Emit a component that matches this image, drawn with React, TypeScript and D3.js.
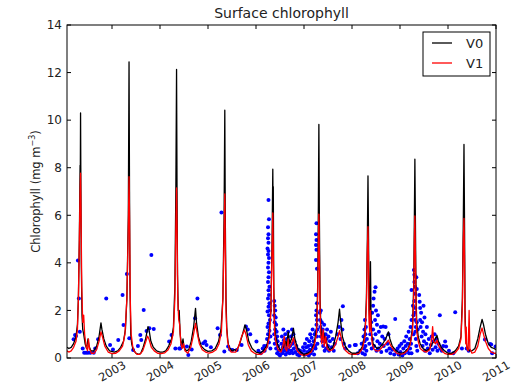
import React from "react";
import * as d3 from "d3";

// ---------- data (decimal year, chlorophyll mg m^-3) ----------
const title = "Surface chlorophyll";
const seriesNames = ["V0", "V1"];
const xTickYears = [2003, 2004, 2005, 2006, 2007, 2008, 2009, 2010, 2011];
const yTicks = [0, 2, 4, 6, 8, 10, 12, 14];

const v0: [number, number][] = [
  [2002.0625, 0.45], [2002.1, 0.4], [2002.15, 0.45], [2002.2, 0.6], [2002.25, 0.9], [2002.28, 1.4], [2002.3, 2.5],
  [2002.32, 5.0], [2002.335, 8.1], [2002.34, 7.6], [2002.345, 10.3], [2002.35, 8.0], [2002.36, 4.0], [2002.375, 1.8],
  [2002.39, 1.2], [2002.41, 1.0], [2002.44, 0.6], [2002.47, 0.4], [2002.5, 0.8], [2002.52, 0.5], [2002.56, 0.3],
  [2002.62, 0.3], [2002.68, 0.5], [2002.73, 0.9], [2002.77, 1.48], [2002.79, 1.2], [2002.83, 0.8], [2002.88, 0.5],
  [2002.95, 0.3], [2003.05, 0.25], [2003.12, 0.3], [2003.18, 0.45], [2003.24, 0.7], [2003.28, 1.2], [2003.31, 2.5],
  [2003.34, 6.0], [2003.355, 12.45], [2003.365, 7.0], [2003.375, 3.0], [2003.39, 1.0], [2003.41, 0.6], [2003.44, 0.35],
  [2003.5, 0.2], [2003.56, 0.15], [2003.6, 0.2], [2003.65, 0.45], [2003.7, 0.8], [2003.75, 1.32], [2003.77, 1.2],
  [2003.81, 0.7], [2003.86, 0.45], [2003.93, 0.3], [2004.0, 0.25], [2004.06, 0.25], [2004.12, 0.3], [2004.18, 0.5],
  [2004.24, 0.8], [2004.28, 1.3], [2004.31, 3.0], [2004.33, 7.0], [2004.345, 12.13], [2004.355, 7.0], [2004.365, 3.5],
  [2004.38, 2.0], [2004.4, 2.0], [2004.42, 1.0], [2004.45, 0.5], [2004.48, 0.8], [2004.5, 0.45], [2004.55, 0.3],
  [2004.6, 0.35], [2004.65, 0.7], [2004.7, 1.3], [2004.74, 2.09], [2004.76, 1.5], [2004.8, 0.9], [2004.86, 0.5],
  [2004.93, 0.35], [2005.0, 0.28], [2005.08, 0.3], [2005.15, 0.4], [2005.22, 0.7], [2005.27, 1.2], [2005.31, 2.5],
  [2005.335, 6.0], [2005.35, 10.42], [2005.36, 6.0], [2005.375, 2.5], [2005.39, 1.3], [2005.41, 0.8], [2005.43, 0.5],
  [2005.46, 0.4], [2005.5, 0.3], [2005.55, 0.35], [2005.6, 0.3], [2005.66, 0.6], [2005.72, 1.0], [2005.77, 1.39],
  [2005.8, 1.2], [2005.85, 0.7], [2005.92, 0.4], [2006.0, 0.25], [2006.08, 0.2], [2006.15, 0.3], [2006.22, 0.5],
  [2006.27, 0.9], [2006.31, 2.0], [2006.335, 5.0], [2006.35, 7.94], [2006.355, 6.5], [2006.36, 7.2], [2006.37, 3.0],
  [2006.385, 1.5], [2006.41, 0.9], [2006.46, 0.5], [2006.52, 0.3], [2006.58, 0.5], [2006.62, 0.7], [2006.64, 0.5],
  [2006.67, 1.1], [2006.7, 0.6], [2006.74, 0.8], [2006.78, 1.25], [2006.81, 0.8], [2006.86, 0.45], [2006.93, 0.25],
  [2007.0, 0.15], [2007.08, 0.2], [2007.15, 0.3], [2007.21, 0.6], [2007.26, 1.2], [2007.285, 3.0], [2007.3, 6.5],
  [2007.31, 9.82], [2007.32, 6.0], [2007.335, 2.5], [2007.35, 1.3], [2007.38, 0.8], [2007.41, 1.1], [2007.43, 0.6],
  [2007.46, 0.8], [2007.49, 0.5], [2007.54, 0.35], [2007.6, 0.45], [2007.66, 0.9], [2007.71, 1.5], [2007.74, 2.05],
  [2007.76, 1.6], [2007.8, 0.9], [2007.86, 0.5], [2007.93, 0.3], [2008.0, 0.2], [2008.08, 0.2], [2008.15, 0.25],
  [2008.22, 0.5], [2008.27, 1.0], [2008.3, 2.5], [2008.32, 5.0], [2008.333, 7.66], [2008.345, 5.0], [2008.355, 2.0],
  [2008.37, 1.5], [2008.385, 4.05], [2008.395, 2.0], [2008.41, 1.0], [2008.44, 0.6], [2008.48, 0.5], [2008.52, 0.4],
  [2008.58, 0.45], [2008.64, 0.6], [2008.7, 0.8], [2008.76, 1.1], [2008.79, 0.8], [2008.84, 0.5], [2008.9, 0.35],
  [2008.96, 0.25], [2009.03, 0.2], [2009.1, 0.25], [2009.17, 0.4], [2009.22, 0.7], [2009.26, 1.3], [2009.285, 3.0],
  [2009.3, 6.0], [2009.31, 8.36], [2009.32, 6.0], [2009.335, 2.5], [2009.35, 1.4], [2009.38, 0.9], [2009.42, 0.6],
  [2009.48, 0.4], [2009.55, 0.3], [2009.62, 0.4], [2009.67, 0.6], [2009.72, 0.75], [2009.77, 0.95], [2009.8, 0.7],
  [2009.86, 0.45], [2009.93, 0.3], [2010.0, 0.2], [2010.08, 0.2], [2010.15, 0.3], [2010.22, 0.5], [2010.27, 0.9],
  [2010.3, 2.5], [2010.32, 6.0], [2010.333, 8.98], [2010.345, 5.5], [2010.355, 2.0], [2010.37, 0.8], [2010.4, 0.4],
  [2010.45, 0.3], [2010.5, 0.3], [2010.56, 0.4], [2010.62, 0.8], [2010.67, 1.3], [2010.71, 1.62], [2010.74, 1.4],
  [2010.78, 1.0], [2010.84, 0.6], [2010.9, 0.45], [2010.96, 0.4], [2011.0, 0.35],
];

const v1: [number, number][] = [
  [2002.0625, 0.3], [2002.1, 0.25], [2002.15, 0.3], [2002.2, 0.45], [2002.25, 0.7], [2002.28, 1.2], [2002.3, 2.5],
  [2002.32, 5.0], [2002.335, 7.0], [2002.345, 7.77], [2002.355, 6.0], [2002.37, 3.0], [2002.39, 1.5], [2002.41, 1.8],
  [2002.43, 1.0], [2002.46, 0.5], [2002.49, 0.3], [2002.51, 0.8], [2002.53, 0.4], [2002.57, 0.2], [2002.63, 0.2],
  [2002.68, 0.35], [2002.73, 0.7], [2002.77, 1.1], [2002.8, 0.9], [2002.85, 0.5], [2002.92, 0.25], [2003.0, 0.18],
  [2003.08, 0.2], [2003.15, 0.3], [2003.22, 0.5], [2003.27, 1.0], [2003.31, 2.5], [2003.34, 5.5], [2003.355, 7.62],
  [2003.365, 6.0], [2003.38, 2.5], [2003.4, 1.0], [2003.43, 0.5], [2003.46, 0.3], [2003.52, 0.15], [2003.58, 0.15],
  [2003.64, 0.3], [2003.69, 0.6], [2003.74, 0.92], [2003.77, 0.8], [2003.82, 0.45], [2003.88, 0.3], [2003.95, 0.2],
  [2004.02, 0.18], [2004.1, 0.22], [2004.17, 0.35], [2004.23, 0.6], [2004.28, 1.1], [2004.31, 2.5], [2004.33, 5.5],
  [2004.345, 7.15], [2004.355, 5.5], [2004.37, 2.5], [2004.39, 1.6], [2004.41, 1.4], [2004.43, 0.7], [2004.46, 0.4],
  [2004.49, 0.6], [2004.52, 0.3], [2004.58, 0.2], [2004.64, 0.45], [2004.69, 0.9], [2004.74, 1.46], [2004.77, 1.1],
  [2004.82, 0.6], [2004.88, 0.35], [2004.95, 0.25], [2005.02, 0.2], [2005.1, 0.25], [2005.17, 0.35], [2005.23, 0.6],
  [2005.28, 1.1], [2005.31, 2.5], [2005.335, 5.0], [2005.35, 6.9], [2005.36, 5.0], [2005.375, 2.0], [2005.39, 1.2],
  [2005.41, 0.7], [2005.44, 0.4], [2005.48, 0.25], [2005.53, 0.25], [2005.58, 0.25], [2005.64, 0.5], [2005.7, 0.9],
  [2005.76, 1.18], [2005.79, 1.0], [2005.84, 0.55], [2005.9, 0.3], [2005.97, 0.2], [2006.03, 0.15], [2006.1, 0.15],
  [2006.17, 0.25], [2006.23, 0.45], [2006.28, 0.9], [2006.31, 2.0], [2006.335, 4.5], [2006.35, 6.1], [2006.36, 4.5],
  [2006.375, 2.0], [2006.39, 1.0], [2006.42, 0.6], [2006.46, 0.35], [2006.52, 0.25], [2006.56, 0.5], [2006.59, 0.9],
  [2006.61, 0.4], [2006.64, 0.3], [2006.67, 0.8], [2006.69, 0.4], [2006.74, 0.6], [2006.78, 0.85], [2006.81, 0.6],
  [2006.86, 0.3], [2006.93, 0.15], [2007.0, 0.1], [2007.08, 0.15], [2007.15, 0.25], [2007.21, 0.5], [2007.26, 1.0],
  [2007.285, 2.5], [2007.3, 5.0], [2007.31, 6.05], [2007.32, 4.5], [2007.335, 2.0], [2007.35, 1.0], [2007.37, 0.6],
  [2007.4, 1.2], [2007.42, 0.5], [2007.45, 0.9], [2007.48, 0.4], [2007.53, 0.3], [2007.6, 0.35], [2007.66, 0.6],
  [2007.71, 0.9], [2007.74, 1.15], [2007.77, 0.9], [2007.81, 0.5], [2007.87, 0.3], [2007.94, 0.18], [2008.0, 0.15],
  [2008.08, 0.15], [2008.15, 0.2], [2008.22, 0.4], [2008.27, 0.9], [2008.3, 2.2], [2008.32, 4.5], [2008.333, 5.52],
  [2008.345, 4.0], [2008.355, 1.5], [2008.37, 1.1], [2008.385, 2.0], [2008.4, 1.2], [2008.42, 0.6], [2008.45, 0.4],
  [2008.5, 0.3], [2008.56, 0.3], [2008.63, 0.45], [2008.7, 0.6], [2008.76, 0.75], [2008.8, 0.55], [2008.86, 0.35],
  [2008.93, 0.2], [2009.0, 0.15], [2009.08, 0.18], [2009.15, 0.3], [2009.21, 0.55], [2009.26, 1.1], [2009.285, 2.5],
  [2009.3, 5.0], [2009.31, 5.97], [2009.32, 4.5], [2009.335, 2.0], [2009.35, 1.1], [2009.38, 0.7], [2009.42, 0.4],
  [2009.48, 0.3], [2009.55, 0.25], [2009.62, 0.35], [2009.66, 0.8], [2009.68, 1.32], [2009.7, 0.7], [2009.74, 0.6],
  [2009.77, 0.75], [2009.81, 0.5], [2009.87, 0.3], [2009.94, 0.18], [2010.0, 0.15], [2010.08, 0.15], [2010.15, 0.22],
  [2010.22, 0.4], [2010.27, 0.8], [2010.3, 2.2], [2010.32, 5.0], [2010.333, 5.87], [2010.345, 4.0], [2010.355, 1.5],
  [2010.37, 0.6], [2010.38, 1.3], [2010.39, 0.4], [2010.42, 0.3], [2010.44, 2.0], [2010.455, 0.4], [2010.5, 0.2],
  [2010.56, 0.25], [2010.62, 0.5], [2010.67, 1.0], [2010.71, 1.26], [2010.74, 1.0], [2010.78, 0.7], [2010.84, 0.4],
  [2010.9, 0.25], [2010.96, 0.2], [2011.0, 0.2],
];

const observations: [number, number][] = [
  // 2002 - 2005
  [2002.2, 0.79], [2002.23, 0.97], [2002.25, 0.92], [2002.29, 4.1], [2002.31, 2.5], [2002.33, 1.1], [2002.39, 0.4],
  [2002.42, 0.22], [2002.46, 0.22], [2002.5, 0.22], [2002.55, 0.22], [2002.62, 0.22], [2002.65, 0.4], [2002.71, 0.79],
  [2002.88, 2.5], [2002.96, 0.55], [2003.02, 0.36], [2003.13, 0.76], [2003.22, 2.65], [2003.24, 1.39], [2003.31, 3.53],
  [2003.36, 0.83], [2003.44, 0.34], [2003.54, 0.5], [2003.59, 0.97], [2003.61, 0.76], [2003.66, 2.02], [2003.72, 1.13],
  [2003.78, 1.25], [2003.82, 4.33], [2003.87, 1.22], [2004.19, 0.69], [2004.24, 0.97], [2004.32, 0.4], [2004.4, 0.4],
  [2004.42, 0.4], [2004.46, 0.55], [2004.56, 0.48], [2004.59, 0.13], [2004.66, 0.36], [2004.73, 1.67], [2004.78, 2.5],
  [2004.9, 0.62], [2004.94, 0.69], [2004.97, 0.55], [2005.06, 0.45], [2005.2, 1.25], [2005.25, 0.97], [2005.28, 6.12],
  [2005.34, 0.27], [2005.42, 0.48], [2005.46, 0.36], [2005.51, 0.34], [2005.6, 0.34], [2005.7, 0.55], [2005.79, 1.32],
  [2005.83, 1.2], [2005.88, 1.0], [2006.01, 0.69],
  // 2006
  [2006.05, 0.3], [2006.1, 0.2], [2006.14, 0.4], [2006.17, 0.5], [2006.18, 0.3],
  [2006.26, 6.64], [2006.27, 5.83], [2006.25, 5.5], [2006.26, 5.2], [2006.25, 5.03], [2006.26, 4.85], [2006.24, 4.6],
  [2006.26, 4.5], [2006.25, 4.35], [2006.27, 4.2], [2006.26, 4.0], [2006.25, 3.8], [2006.27, 3.6], [2006.26, 3.4],
  [2006.25, 3.2], [2006.28, 3.0], [2006.26, 2.85], [2006.27, 2.65], [2006.25, 2.5], [2006.28, 2.3], [2006.26, 2.15],
  [2006.24, 1.95], [2006.27, 1.8], [2006.29, 1.6], [2006.26, 1.45], [2006.24, 1.3], [2006.28, 1.15], [2006.25, 1.0],
  [2006.23, 0.8], [2006.27, 0.65], [2006.22, 0.5], [2006.3, 0.9], [2006.29, 2.0], [2006.3, 0.4],
  [2006.38, 2.4], [2006.39, 2.2], [2006.4, 2.0], [2006.38, 1.8], [2006.41, 1.7], [2006.39, 1.5], [2006.42, 1.4],
  [2006.4, 1.2], [2006.43, 1.1], [2006.38, 1.0], [2006.44, 0.9], [2006.41, 0.8], [2006.45, 0.7], [2006.39, 0.6],
  [2006.46, 0.5], [2006.42, 0.4], [2006.47, 0.3], [2006.44, 0.2], [2006.48, 0.15], [2006.5, 0.1], [2006.52, 0.3],
  [2006.53, 0.6], [2006.54, 0.9], [2006.55, 0.2], [2006.56, 0.45], [2006.57, 1.2], [2006.58, 0.75], [2006.59, 0.3],
  [2006.6, 0.55], [2006.61, 1.0], [2006.62, 0.15], [2006.63, 0.4], [2006.64, 0.8], [2006.65, 0.25], [2006.66, 0.6],
  [2006.67, 1.1], [2006.68, 0.35], [2006.69, 0.7], [2006.7, 0.2], [2006.71, 0.5], [2006.73, 0.9], [2006.74, 0.3],
  [2006.75, 1.2], [2006.76, 0.6], [2006.77, 0.2], [2006.78, 1.0], [2006.79, 0.4], [2006.8, 0.7], [2006.82, 0.25],
  [2006.84, 0.5], [2006.86, 0.15], [2006.88, 0.35], [2006.9, 0.1], [2006.92, 0.3], [2006.95, 0.2], [2006.98, 0.45],
  // 2007
  [2007.0, 0.3], [2007.02, 0.6], [2007.03, 0.15], [2007.05, 0.45], [2007.06, 0.8], [2007.07, 0.25], [2007.09, 0.5],
  [2007.1, 0.1], [2007.11, 0.7], [2007.12, 0.35], [2007.13, 1.0], [2007.14, 0.2], [2007.15, 0.55], [2007.16, 0.85],
  [2007.17, 0.3], [2007.18, 1.2], [2007.19, 0.45], [2007.2, 0.7], [2007.21, 0.15], [2007.22, 1.0], [2007.23, 0.5],
  [2007.26, 5.66], [2007.25, 5.2], [2007.26, 4.96], [2007.25, 4.75], [2007.26, 4.55], [2007.25, 4.12], [2007.27, 3.75],
  [2007.25, 2.65], [2007.27, 2.3], [2007.26, 2.0], [2007.25, 1.8], [2007.27, 1.6], [2007.26, 1.4], [2007.28, 1.2],
  [2007.25, 1.1], [2007.27, 0.9], [2007.28, 0.6], [2007.24, 0.4],
  [2007.33, 1.9], [2007.34, 1.6], [2007.35, 2.0], [2007.34, 1.3], [2007.36, 1.1], [2007.35, 0.9], [2007.37, 1.5],
  [2007.38, 0.7], [2007.39, 1.2], [2007.4, 0.5], [2007.41, 0.9], [2007.42, 1.4], [2007.43, 0.3], [2007.44, 0.7],
  [2007.45, 1.0], [2007.46, 0.4], [2007.47, 0.8], [2007.48, 1.2], [2007.5, 0.5], [2007.51, 0.9], [2007.52, 0.3],
  [2007.54, 0.7], [2007.56, 1.1], [2007.58, 0.45], [2007.6, 0.8], [2007.62, 0.3], [2007.64, 0.6],
  [2007.7, 1.0], [2007.73, 1.3], [2007.76, 0.8], [2007.78, 1.6], [2007.81, 2.18], [2007.8, 1.2], [2007.83, 0.6],
  [2007.86, 0.4], [2007.95, 0.5], [2008.06, 0.55], [2008.08, 0.55],
  // 2008
  [2008.12, 0.2], [2008.17, 0.3], [2008.2, 0.6], [2008.22, 0.2], [2008.24, 0.9], [2008.25, 0.4], [2008.26, 1.2],
  [2008.26, 0.7], [2008.27, 1.6], [2008.27, 0.15], [2008.28, 1.0], [2008.28, 0.5], [2008.29, 1.3], [2008.3, 0.3],
  [2008.31, 0.8], [2008.36, 0.6], [2008.38, 1.0], [2008.4, 1.5], [2008.41, 0.4], [2008.42, 1.9], [2008.43, 0.8],
  [2008.44, 2.2], [2008.44, 1.2], [2008.45, 2.5], [2008.46, 0.5], [2008.47, 2.79], [2008.48, 1.6], [2008.49, 2.97],
  [2008.49, 1.0], [2008.5, 2.0], [2008.51, 0.3], [2008.52, 1.4], [2008.53, 0.7], [2008.54, 1.8], [2008.55, 0.4],
  [2008.56, 1.1], [2008.58, 0.6], [2008.6, 1.3], [2008.61, 0.25], [2008.63, 0.9], [2008.65, 1.32], [2008.66, 0.5],
  [2008.68, 0.8], [2008.7, 1.3], [2008.72, 0.3], [2008.74, 0.6], [2008.76, 1.0], [2008.78, 0.4], [2008.8, 0.2],
  [2008.84, 0.35], [2008.88, 0.15], [2008.9, 1.64], [2008.93, 0.3],
  // 2009
  [2008.95, 0.4], [2008.97, 0.15], [2008.99, 0.5], [2009.01, 0.25], [2009.03, 0.6], [2009.05, 0.1], [2009.07, 0.4],
  [2009.09, 0.7], [2009.1, 0.2], [2009.12, 0.5], [2009.13, 0.9], [2009.15, 0.3], [2009.16, 0.6], [2009.18, 1.1],
  [2009.19, 0.2], [2009.2, 0.8], [2009.21, 0.4], [2009.22, 1.3], [2009.23, 0.6], [2009.24, 1.6], [2009.24, 0.2],
  [2009.24, 2.86], [2009.27, 2.2], [2009.28, 1.8], [2009.28, 1.0], [2009.29, 3.7], [2009.3, 3.5], [2009.3, 3.2],
  [2009.31, 3.0], [2009.31, 2.7], [2009.3, 2.4], [2009.32, 2.1], [2009.31, 1.9], [2009.32, 1.6], [2009.33, 1.3],
  [2009.32, 1.1], [2009.33, 0.8], [2009.34, 0.5], [2009.34, 3.4], [2009.35, 2.9], [2009.35, 1.5], [2009.36, 0.3],
  [2009.37, 1.2],
  [2009.4, 2.65], [2009.41, 2.37], [2009.42, 2.1], [2009.42, 1.6], [2009.43, 1.3], [2009.44, 1.9], [2009.45, 0.9],
  [2009.46, 1.5], [2009.47, 0.5], [2009.48, 1.1], [2009.49, 2.2], [2009.5, 0.7], [2009.51, 1.7], [2009.52, 0.3],
  [2009.53, 1.0], [2009.55, 0.6], [2009.56, 1.3], [2009.58, 0.4], [2009.6, 0.8], [2009.62, 0.2], [2009.64, 0.55],
  [2009.66, 0.9], [2009.68, 0.35], [2009.7, 0.7], [2009.72, 1.0], [2009.74, 0.45], [2009.76, 0.8], [2009.78, 0.3],
  [2009.8, 0.6], [2009.83, 1.8], [2009.84, 0.4], [2009.87, 0.3], [2009.9, 0.5], [2009.94, 0.69], [2009.96, 0.48],
  // 2010
  [2010.02, 0.3], [2010.11, 0.2], [2010.15, 1.92], [2010.29, 0.4], [2010.39, 0.4], [2010.43, 0.3], [2010.77, 0.78],
  [2010.875, 0.59], [2010.9, 0.57], [2010.92, 0.2], [2010.99, 0.48],
];

// ---------- layout ----------
const W = 523;
const H = 384;
const plot = { left: 67, right: 496, top: 25, bottom: 358 };
const FONT = "'DejaVu Sans', sans-serif";

export default function App() {
  const x = d3.scaleLinear().domain([2002.0625, 2011]).range([plot.left, plot.right]);
  const y = d3.scaleLinear().domain([0, 14]).range([plot.bottom, plot.top]);
  const line = d3
    .line<[number, number]>()
    .x((d) => x(d[0]))
    .y((d) => y(d[1]));

  const tickLen = 4;

  return (
    <svg
      width={W}
      height={H}
      style={{ position: "absolute", left: 0, top: 0, background: "#fff" }}
      fontFamily={FONT}
    >
      <rect x={0} y={0} width={W} height={H} fill="#fff" />
      <defs>
        <clipPath id="plotclip">
          <rect x={plot.left} y={plot.top} width={plot.right - plot.left} height={plot.bottom - plot.top} />
        </clipPath>
      </defs>

      <g clipPath="url(#plotclip)">
        {observations.map((d, i) => (
          <circle key={i} cx={x(d[0])} cy={y(d[1])} r={2} fill="#0000ff" />
        ))}
        <path d={line(v0) || ""} fill="none" stroke="#000" strokeWidth={1.3} strokeLinejoin="round" />
        <path d={line(v1) || ""} fill="none" stroke="#ff0000" strokeWidth={1.3} strokeLinejoin="round" />
      </g>

      {/* frame */}
      <rect
        x={plot.left}
        y={plot.top}
        width={plot.right - plot.left}
        height={plot.bottom - plot.top}
        fill="none"
        stroke="#000"
        strokeWidth={1}
      />

      {/* y ticks */}
      {yTicks.map((t) => (
        <g key={"y" + t}>
          <line x1={plot.left} x2={plot.left + tickLen} y1={y(t)} y2={y(t)} stroke="#000" />
          <line x1={plot.right} x2={plot.right - tickLen} y1={y(t)} y2={y(t)} stroke="#000" />
          <text x={plot.left - 5} y={y(t)} dy="0.36em" textAnchor="end" fontSize={12} fill="#222">
            {t}
          </text>
        </g>
      ))}

      {/* x ticks */}
      {xTickYears.map((t) => (
        <g key={"x" + t}>
          <line x1={x(t)} x2={x(t)} y1={plot.bottom} y2={plot.bottom - tickLen} stroke="#000" />
          <line x1={x(t)} x2={x(t)} y1={plot.top} y2={plot.top + tickLen} stroke="#000" />
          <text
            transform={`translate(${x(t)},${plot.bottom + 13}) rotate(-30)`}
            textAnchor="middle"
            dy="0.36em"
            fontSize={11.5}
            fill="#222"
          >
            {t}
          </text>
        </g>
      ))}

      {/* title */}
      <text x={(plot.left + plot.right) / 2} y={18} textAnchor="middle" fontSize={14} fill="#222">
        {title}
      </text>

      {/* y label */}
      <text
        transform={`translate(36,${(plot.top + plot.bottom) / 2}) rotate(-90)`}
        textAnchor="middle"
        dy="0.36em"
        fontSize={11.5}
        fill="#222"
      >
        Chlorophyll (mg m<tspan dy="-5" fontSize={8}>−3</tspan>
        <tspan dy="5">)</tspan>
      </text>

      {/* legend */}
      <g>
        <rect x={423} y={32} width={67} height={44} fill="#fff" stroke="#000" strokeWidth={1} />
        {seriesNames.map((name, i) => (
          <g key={name}>
            <line
              x1={432}
              x2={452}
              y1={43 + i * 20}
              y2={43 + i * 20}
              stroke={i === 0 ? "#000" : "#ff0000"}
              strokeWidth={1.3}
            />
            <text x={466} y={43 + i * 20} dy="0.36em" fontSize={13} fill="#222">
              {name}
            </text>
          </g>
        ))}
      </g>
    </svg>
  );
}
